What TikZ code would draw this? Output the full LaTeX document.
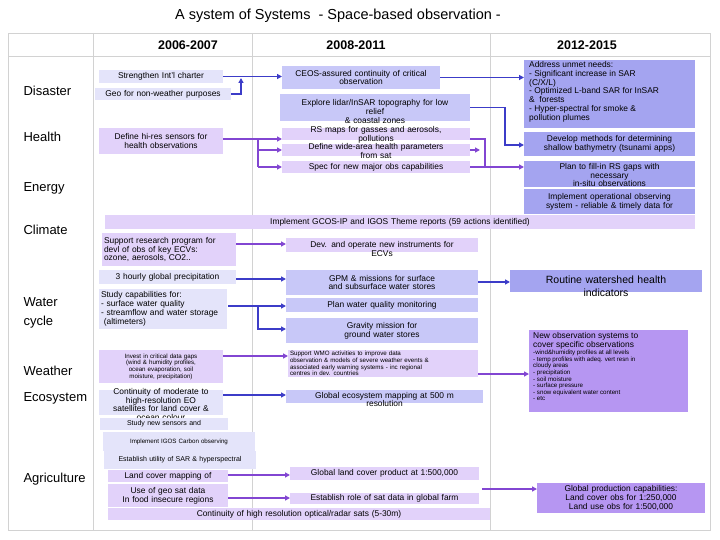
\documentclass[tikz,border=0pt]{standalone}
\usepackage{fontspec}
\setmainfont{Liberation Sans}
\usetikzlibrary{arrows.meta}
\definecolor{bla}{RGB}{228,228,250}
\definecolor{blb}{RGB}{200,200,248}
\definecolor{pla}{RGB}{226,210,250}
\definecolor{mbl}{RGB}{164,164,240}
\definecolor{mpu}{RGB}{182,150,242}
\definecolor{abl}{RGB}{60,60,200}
\definecolor{apu}{RGB}{130,70,210}
\definecolor{grid}{RGB}{210,210,210}
\tikzset{
  boxr/.style={draw=none,inner sep=0pt,outer sep=0pt},
  txt/.style={inner sep=0pt,align=center,font=\fontsize{8.4}{8.9}\selectfont},
  sm/.style={font=\fontsize{6.2}{6.6}\selectfont},
  lbl/.style={anchor=west,font=\fontsize{13}{14}\selectfont},
  hdr/.style={font=\bfseries\fontsize{12.5}{14}\selectfont},
  ab/.style={draw=abl,line width=1.4pt,-{Triangle[length=5pt,width=5pt]}},
  ap/.style={draw=apu,line width=1.4pt,-{Triangle[length=5pt,width=5pt]}},
  lb/.style={draw=abl,line width=1.4pt},
  lp/.style={draw=apu,line width=1.4pt}
}
\newcommand\bx[8][]{%
  \pgfmathsetmacro\bw{#5-#3}\pgfmathsetmacro\bh{#6-#4}\pgfmathsetmacro\tw{#5-#3-4}%
  \node[boxr,#1,minimum width=\bw pt,minimum height=\bh pt] (#2) at ({(#3+#5)/2},{(#4+#6)/2}) {};
  \node[txt,text width=\tw pt,#7] (#2t) at (#2.center) {#8};}
\begin{document}
\begin{tikzpicture}[x=1pt,y=-1pt]
\useasboundingbox (0,0) rectangle (720,540);
\fill[white] (0,0) rectangle (720,540);
\node[font=\fontsize{14.5}{16}\selectfont] (title) at (338,16) {A system of Systems \ - Space-based observation -};
% grid
\draw[grid,line width=0.8pt] (8,33) rectangle (710,530);
\draw[grid,line width=0.8pt] (8,56) -- (710,56);
\draw[grid,line width=0.8pt] (93,33) -- (93,530);
\draw[grid,line width=0.8pt] (252,33) -- (252,530);
\draw[grid,line width=0.8pt] (490,33) -- (490,530);
\node[hdr] (h1) at (188,45) {2006-2007};
\node[hdr] (h2) at (356,45) {2008-2011};
\node[hdr] (h3) at (587,45) {2012-2015};
% labels
\node[lbl] (l1) at (20,91) {Disaster};
\node[lbl] (l2) at (20,137) {Health};
\node[lbl] (l3) at (20,188) {Energy};
\node[lbl] (l4) at (20,230) {Climate};
\node[lbl,align=left,font=\fontsize{13}{19}\selectfont] (l5) at (20,313) {Water\\cycle};
\node[lbl] (l6) at (20,371) {Weather};
\node[lbl] (l7) at (20,398) {Ecosystem};
\node[lbl] (l8) at (20,479) {Agriculture};
% Disaster
\bx[fill=bla]{s1}{99}{70}{223}{83}{}{Strengthen Int'l charter}
\bx[fill=bla]{s2}{95}{88}{231}{100}{}{Geo for non-weather purposes}
\bx[fill=blb]{c1}{282}{66}{440}{89}{}{CEOS-assured continuity of critical\\observation}
\bx[fill=blb]{c2}{280}{94}{470}{121}{yshift=-4pt}{Explore lidar/InSAR topography for low\\relief\\\& coastal zones}
\bx[fill=mbl]{u1}{524}{60}{695}{128}{}{}
\node[txt,align=left,anchor=north west] (u1t) at (529,61) {Address unmet needs:\\- Significant increase in SAR\\(C/X/L)\\- Optimized L-band SAR for InSAR\\\&\ \ forests\\- Hyper-spectral for smoke \&\\pollution plumes};
\bx[fill=mbl]{u2}{524}{132}{695}{156}{}{Develop methods for determining\\shallow bathymetry (tsunami apps)}
\draw[ab] (s1.east) -- (c1.west |- s1.east);
\draw[ab] (s2.east) -| (241,78);
\draw[ab] (c1.east) -- (u1.west |- c1.east);
\draw[ab] (c2.east) -| (505,145) -- (u2.west |- 0,145);
% Health
\bx[fill=pla]{d1}{99}{128}{223}{154}{}{Define hi-res sensors for\\health observations}
\bx[fill=pla]{r1}{282}{128}{470}{140}{yshift=-1pt}{RS maps for gasses and aerosols,\\pollutions}
\bx[fill=pla]{r2}{282}{144}{470}{156}{yshift=-1pt}{Define wide-area health parameters\\from sat}
\bx[fill=pla]{r3}{282}{161}{470}{173}{}{Spec for new major obs capabilities}
\bx[fill=mbl]{p1}{524}{161}{695}{187}{yshift=-1pt}{Plan to fill-in RS gaps with\\necessary\\in-situ observations}
\bx[fill=mbl]{p2}{524}{189}{695}{214}{}{Implement operational observing\\system - reliable \& timely data for}
\draw[ap] (d1.east |- 0,139) -- (r1.west |- 0,139);
\draw[lp] (258,139) -- (258,167);
\draw[ap] (258,150) -- (r2.west |- 0,150);
\draw[ap] (258,167) -- (r3.west |- 0,167);
\draw[lp] (r1.east |- 0,139) -| (485,167);
\draw[ap] (r2.east |- 0,150) -- (480,150);
\draw[ap] (r3.east) -- (p1.west |- r3.east);
% Climate
\bx[fill=pla]{g1}{105}{215}{695}{229}{}{Implement GCOS-IP and IGOS Theme reports (59 actions identified)}
\bx[fill=pla]{sr}{102}{233}{236}{266}{align=left}{Support research program for\\devl of obs of key ECVs:\\ozone, aerosols, CO2..}
\bx[fill=pla]{dv}{286}{238}{478}{252}{yshift=-4pt}{Dev. and operate new instruments for\\ECVs}
\draw[ap] (sr.east |- 0,244) -- (dv.west |- 0,244);
% Water
\bx[fill=bla]{w1}{99}{270}{236}{284}{}{3 hourly global precipitation}
\bx[fill=blb]{w2}{286}{270}{478}{295}{}{GPM \& missions for surface\\and subsurface water stores}
\bx[fill=mbl]{w3}{510}{270}{702}{292}{yshift=-5pt,font=\fontsize{10.5}{12.5}\selectfont}{Routine watershed health\\indicators}
\bx[fill=bla]{w4}{99}{289}{227}{329}{align=left}{Study capabilities for:\\- surface water quality\\- streamflow and water storage\\\ (altimeters)}
\bx[fill=blb]{w5}{286}{298}{478}{312}{}{Plan water quality monitoring}
\bx[fill=blb]{w6}{286}{318}{478}{343}{}{Gravity mission for\\ground water stores}
\draw[ab] (w1.east |- 0,279) -- (w2.west |- 0,279);
\draw[ab] (w2.east |- 0,282) -- (w3.west |- 0,282);
\draw[ab] (228,306) -- (w5.west |- 0,306);
\draw[ab] (258,306) |- (w6.west |- 0,329);
% Weather
\bx[fill=pla]{v1}{99}{350}{223}{383}{sm}{Invest in critical data gaps\\(wind \& humidity profiles,\\ocean evaporation, soil\\moisture, precipitation)}
\bx[fill=pla]{v2}{288}{350}{478}{377}{sm,align=left}{Support WMO activities to improve data\\observation \& models of severe weather events \&\\associated early warning systems - inc regional\\centres in dev. countries}
\bx[fill=mpu]{v3}{529}{330}{688}{412}{}{}
\node[txt,align=left,anchor=north west] (v3a) at (533,332) {New observation systems to\\cover specific observations};
\node[txt,sm,align=left,anchor=north west] (v3b) at (533,350) {-wind\&humidity profiles at all levels\\- temp profiles with adeq. vert resn in\\cloudy areas\\- precipitation\\- soil moisture\\- surface pressure\\- snow equivalent water content\\- etc};
\draw[ap] (v1.east |- 0,356) -- (v2.west |- 0,356);
\draw[ap] (v2.east |- 0,374) -- (v3.west |- 0,374);
% Ecosystem
\bx[fill=bla]{e1}{99}{390}{223}{415}{yshift=-2pt}{Continuity of moderate to\\high-resolution EO\\satellites for land cover \&\\ocean colour}
\bx[fill=blb]{e2}{286}{390}{483}{403}{yshift=-3pt}{Global ecosystem mapping at 500 m\\resolution}
\bx[fill=bla]{e3}{100}{418}{228}{430}{font=\fontsize{7}{7.5}\selectfont}{Study new sensors and}
\bx[fill=bla]{e4}{103}{432}{255}{451}{sm}{Implement IGOS Carbon observing}
\bx[fill=bla]{e5}{104}{451}{256}{469}{font=\fontsize{7}{7.5}\selectfont}{Establish utility of SAR \& hyperspectral}
\draw[ab] (e1.east |- 0,395) -- (e2.west |- 0,395);
% Agriculture
\bx[fill=pla]{a1}{108}{470}{228}{482}{}{Land cover mapping of}
\bx[fill=pla]{a2}{290}{467}{479}{480}{}{Global land cover product at 1:500,000}
\bx[fill=pla]{a3}{108}{484}{228}{507}{}{Use of geo sat data\\In food insecure regions}
\bx[fill=pla]{a4}{290}{493}{479}{504}{}{Establish role of sat data in global farm}
\bx[fill=pla]{a5}{108}{508}{490}{520}{}{Continuity of high resolution optical/radar sats (5-30m)}
\bx[fill=mpu]{a6}{537}{483}{705}{513}{}{Global production capabilities:\\Land cover obs for 1:250,000\\Land use obs for 1:500,000}
\draw[ap] (a1.east |- 0,475) -- (a2.west |- 0,475);
\draw[ap] (a3.east |- 0,498) -- (a4.west |- 0,498);
\draw[ap] (482,489) -- (a6.west |- 0,489);
\end{tikzpicture}
\end{document}
